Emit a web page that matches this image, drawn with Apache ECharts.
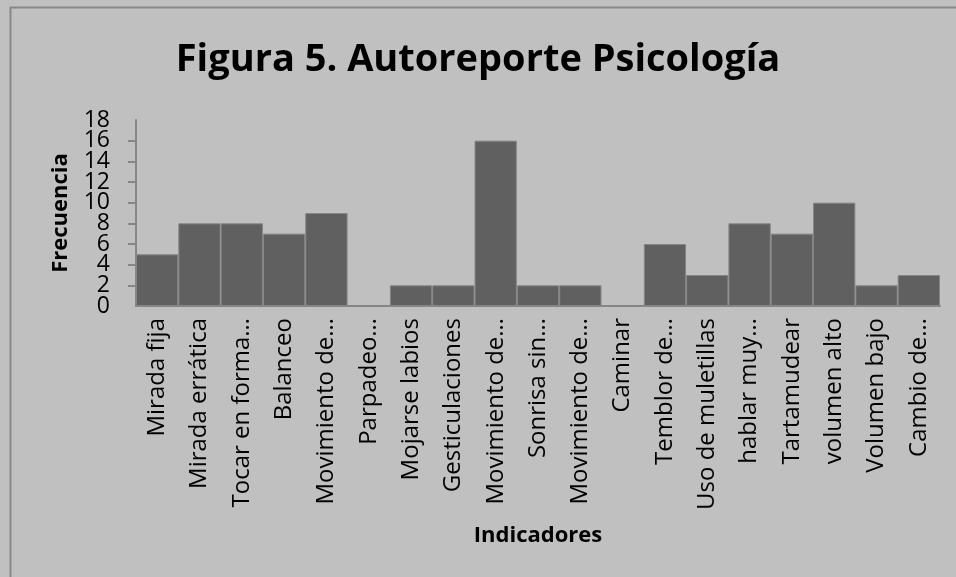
<!DOCTYPE html>
<html>
<head>
<meta charset="utf-8">
<script src="https://cdn.jsdelivr.net/npm/echarts@6/dist/echarts.min.js"></script>
<style>
  html, body { margin: 0; padding: 0; background: #c0c0c0; }
  #chart { width: 956px; height: 577px; }
</style>
</head>
<body>
<div id="chart"></div>
<script>
// datos
var categorias = ['Mirada fija', 'Mirada errática', 'Tocar en forma…', 'Balanceo', 'Movimiento de…',
  'Parpadeo…', 'Mojarse labios', 'Gesticulaciones', 'Movimiento de…', 'Sonrisa sin…',
  'Movimiento de…', 'Caminar', 'Temblor de…', 'Uso de muletillas', 'hablar muy…',
  'Tartamudear', 'volumen alto', 'Volumen bajo', 'Cambio de…'];
var frecuencia = [5, 8, 8, 7, 9, 0, 2, 2, 16, 2, 2, 0, 6, 3, 8, 7, 10, 2, 3];
var ejeY = { min: 0, max: 18, paso: 2 };

var myChart = echarts.init(document.getElementById('chart'));
var fuente = '"Open Sans", sans-serif';
var etiquetaY = { fontFamily: fuente, fontSize: 23, color: '#000', margin: 26, hideOverlap: false };

var option = {
  backgroundColor: '#c0c0c0',
  animation: false,
  title: {
    text: 'Figura 5. Autoreporte Psicología',
    left: 'center',
    top: 36,
    textStyle: { fontFamily: fuente, fontSize: 38, fontWeight: 'bold', color: '#000' }
  },
  graphic: [{
    type: 'rect',
    shape: { x: 10.5, y: 7.5, width: 980, height: 620 },
    style: { fill: 'none', stroke: '#888', lineWidth: 2 }
  }],
  grid: { left: 136, right: 16, top: 120, bottom: 271, containLabel: false, outerBoundsMode: 'none' },
  xAxis: {
    type: 'category',
    data: categorias,
    name: 'Indicadores',
    nameLocation: 'middle',
    nameGap: 219,
    nameTextStyle: { fontFamily: fuente, fontSize: 22, fontWeight: 'bold', color: '#000' },
    axisLine: { lineStyle: { color: '#868686', width: 2 } },
    axisTick: { show: false },
    axisLabel: {
      interval: 0,
      rotate: 90,
      margin: 12,
      hideOverlap: false,
      fontFamily: fuente,
      fontSize: 24,
      color: '#000'
    }
  },
  yAxis: [{
    type: 'value',
    min: ejeY.min,
    max: ejeY.max,
    interval: ejeY.paso,
    name: 'Frecuencia',
    nameLocation: 'middle',
    nameGap: 64,
    nameTextStyle: { fontFamily: fuente, fontSize: 22, fontWeight: 'bold', color: '#000' },
    splitLine: { show: false },
    axisLine: { show: true, lineStyle: { color: '#868686', width: 2 } },
    axisTick: { show: true, length: 8, lineStyle: { color: '#868686', width: 2 } },
    axisLabel: Object.assign({ showMinLabel: false, showMaxLabel: false }, etiquetaY)
  }, {
    // solo para las etiquetas 0 y 18 (los extremos se ocultan por solape)
    type: 'value',
    position: 'left',
    min: ejeY.min,
    max: ejeY.max,
    interval: ejeY.max - ejeY.min,
    splitLine: { show: false },
    axisLine: { show: false },
    axisTick: { show: false },
    axisLabel: Object.assign({ showMinLabel: true, showMaxLabel: true }, etiquetaY)
  }],
  series: [{
    type: 'bar',
    data: frecuencia,
    barCategoryGap: '0%',
    itemStyle: { color: '#606060', borderColor: '#858585', borderWidth: 1 }
  }]
};
myChart.setOption(option);
</script>
</body>
</html>
